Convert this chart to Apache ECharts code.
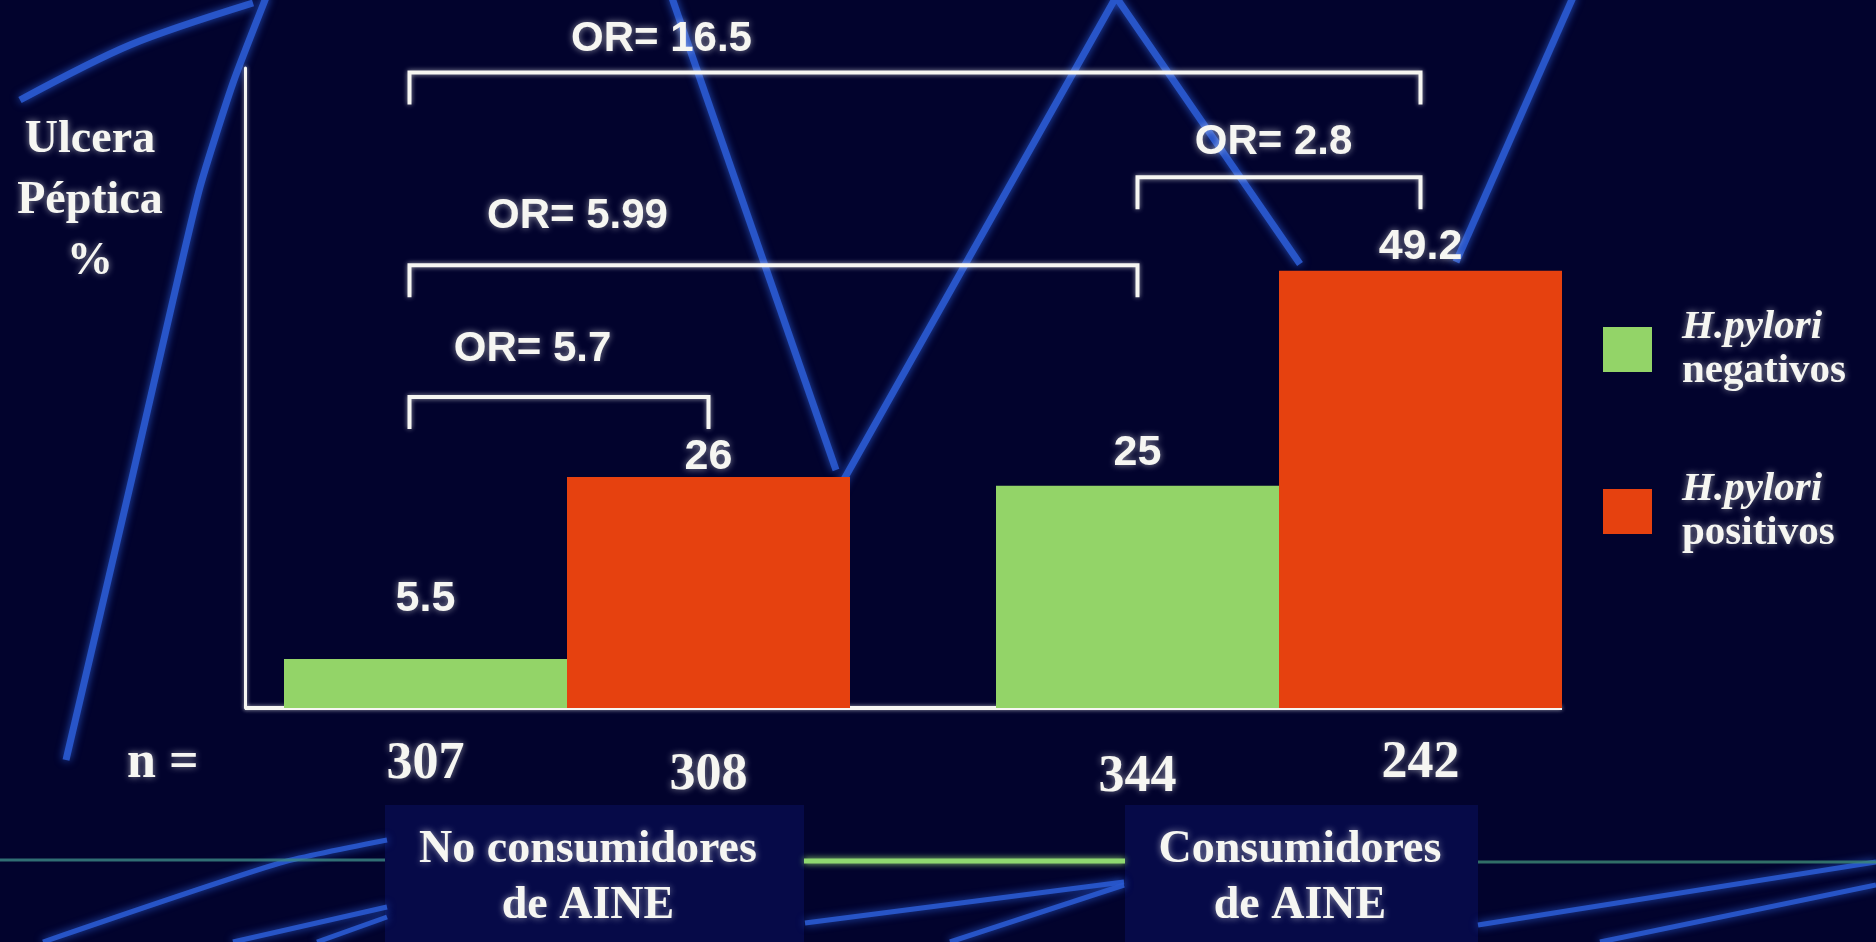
<!DOCTYPE html>
<html><head><meta charset="utf-8">
<script src="https://cdn.jsdelivr.net/npm/echarts@6/dist/echarts.min.js"></script>
<style>html,body{margin:0;padding:0;background:#02032d;}#c{width:1876px;height:942px;}</style>
</head><body><div id="c"></div>
<script>
// ---------------- data ----------------
const groups = ['No consumidores\nde AINE', 'Consumidores\nde AINE'];
const seriesNames = ['H.pylori negativos', 'H.pylori positivos'];
const hpNegativos = [5.5, 25];
const hpPositivos = [26, 49.2];
const nNegativos = [307, 344];
const nPositivos = [308, 242];
const yAxisTitle = 'Ulcera\nPéptica\n%';
const nTitle = 'n =';
const orLabels = ['OR= 16.5', 'OR= 2.8', 'OR= 5.99', 'OR= 5.7'];
const orFrom = [[0, 0], [1, 0], [0, 0], [0, 0]];   // [group, series]
const orTo   = [[1, 1], [1, 1], [1, 0], [0, 1]];
const orLevel = [71.5, 59.7, 49.8, 35.0];          // bracket height, % axis units
const yMax = 72;

// ---------------- style ----------------
const BG = '#02032d';
const GREEN = '#93d468';
const RED = '#e6410f';
const WHITE = '#f6f6f2';
const SANS = '"Liberation Sans", Arial, sans-serif';
const SERIF = '"Liberation Serif", "Times New Roman", serif';
const GRID = { left: 211, top: 68, width: 1424, height: 640 };
const AXIS_SHIFT = 34;
const BAR_W = 283;
const LEG = 32;
const LEFT_LEG_SHIFT = -16;
const orLabelDx = [252, 136, 168, 123];
const orLabelDy = [-33, -35, -49, -47];
const valueLabelDist = [[40, 13], [0, 4]];   // [series][group]
const nDy = [[57, 70], [68, 56]];            // [series][group]
const glow = { textShadowColor: 'rgba(255,255,255,0.55)', textShadowBlur: 7 };
const BLUE = '#2a5ad0';

function barCenterX(api, g, s) {
  const c = api.coord([g, 0]);
  return c[0] + (s === 0 ? -BAR_W / 2 : BAR_W / 2);
}

function decoLine(points, color, width, smooth) {
  return { type: 'polyline', z: 0, silent: true,
    shape: { points: points, smooth: smooth || 0 },
    style: { stroke: color, lineWidth: width, fill: null, shadowBlur: 8, shadowColor: color, opacity: 0.9 } };
}

const chart = echarts.init(document.getElementById('c'));
const valueSeries = [hpNegativos, hpPositivos];
const nSeries = [nNegativos, nPositivos];

const nData = [];
for (let s = 0; s < 2; s++) for (let g = 0; g < groups.length; g++) nData.push([g, 0, nSeries[s][g], s]);

chart.setOption({
  backgroundColor: BG,
  animation: false,
  grid: { left: GRID.left, top: GRID.top, width: GRID.width, height: GRID.height },
  xAxis: {
    type: 'category', data: groups,
    axisLine: { show: false }, axisTick: { show: false }, splitLine: { show: false },
    axisLabel: {
      color: WHITE, fontFamily: SERIF, fontWeight: 'bold', fontSize: 46, lineHeight: 56,
      margin: 114, padding: [0, 0, 0, 42], ...glow
    }
  },
  yAxis: {
    type: 'value', min: 0, max: yMax, offset: -AXIS_SHIFT,
    axisLine: { show: true, lineStyle: { color: WHITE, width: 3, shadowBlur: 4, shadowColor: 'rgba(255,255,255,0.6)' } },
    axisTick: { show: false }, axisLabel: { show: false }, splitLine: { show: false }
  },
  legend: {
    orient: 'vertical', left: 1598, top: 302, itemWidth: 49, itemHeight: 45, itemGap: 77,
    icon: 'rect', selectedMode: false,
    data: seriesNames,
    formatter: function (name) {
      const parts = name.split(' ');
      return '{a|' + parts[0] + '}\n{b|' + parts[1] + '}';
    },
    textStyle: {
      color: WHITE, padding: [0, 0, 0, 25],
      rich: {
        a: { color: WHITE, fontFamily: SERIF, fontStyle: 'italic', fontWeight: 'bold', fontSize: 41, lineHeight: 44, ...glow },
        b: { color: WHITE, fontFamily: SERIF, fontWeight: 'bold', fontSize: 41, lineHeight: 44, ...glow }
      }
    }
  },
  graphic: [
    // decorative slide background
    { type: 'rect', z: 0, silent: true, shape: { x: 385, y: 805, width: 419, height: 137 }, style: { fill: '#060a48' } },
    { type: 'rect', z: 0, silent: true, shape: { x: 1125, y: 805, width: 353, height: 137 }, style: { fill: '#060a48' } },
    decoLine([[20, 100], [130, 45], [253, 3]], BLUE, 7, 0.3),
    decoLine([[267, -5], [233, 83], [200, 187], [173, 300], [132, 478], [66, 760]], BLUE, 7, 0.2),
    decoLine([[671, -5], [836, 470]], BLUE, 7),
    decoLine([[838, 490], [1116, -3], [1300, 264]], BLUE, 7),
    decoLine([[1574, -5], [1456, 262]], BLUE, 7),
    decoLine([[43, 942], [280, 863], [387, 840]], BLUE, 5, 0.2),
    decoLine([[233, 942], [387, 907]], BLUE, 5),
    decoLine([[317, 942], [387, 917]], BLUE, 5),
    decoLine([[805, 923], [1124, 882]], BLUE, 5),
    decoLine([[950, 942], [1124, 885]], BLUE, 5),
    decoLine([[1478, 925], [1876, 862]], BLUE, 5),
    decoLine([[1600, 942], [1876, 885]], BLUE, 5),
    { type: 'line', z: 0, silent: true, shape: { x1: 0, y1: 860, x2: 385, y2: 860 }, style: { stroke: '#3c8a86', lineWidth: 3, opacity: 0.8 } },
    { type: 'line', z: 0, silent: true, shape: { x1: 804, y1: 861, x2: 1125, y2: 861 }, style: { stroke: '#8fd870', lineWidth: 5, shadowBlur: 6, shadowColor: '#8fd870' } },
    { type: 'line', z: 0, silent: true, shape: { x1: 1478, y1: 862, x2: 1876, y2: 862 }, style: { stroke: '#3c8a76', lineWidth: 3, opacity: 0.8 } },
    // texts
    { type: 'text', z: 100, x: 90, y: 110,
      style: { text: yAxisTitle, fill: WHITE, font: 'bold 46px ' + SERIF, lineHeight: 61, align: 'center', verticalAlign: 'top', ...glow } },
    { type: 'text', z: 100, x: 127, y: 738,
      style: { text: nTitle, fill: WHITE, font: 'bold 52px ' + SERIF, ...glow } }
  ],
  series: [
    {
      type: 'custom', name: 'baseline', z: 1, silent: true, legendHoverLink: false,
      data: [[0, 0]],
      renderItem: function (params, api) {
        const y = api.coord([0, 0])[1];
        const xs = params.coordSys.x + AXIS_SHIFT;
        const xe = barCenterX(api, groups.length - 1, 1) + BAR_W / 2;
        return { type: 'line', shape: { x1: xs, y1: y, x2: xe, y2: y },
          style: { stroke: WHITE, lineWidth: 4, shadowBlur: 4, shadowColor: 'rgba(255,255,255,0.6)' } };
      }
    },
    ...valueSeries.map((vals, s) => ({
      type: 'bar', name: seriesNames[s], z: 3,
      barWidth: BAR_W, barGap: '0%',
      itemStyle: { color: s === 0 ? GREEN : RED },
      data: vals.map((v, g) => ({ value: v, label: { distance: valueLabelDist[s][g] } })),
      label: {
        show: true, position: 'top', color: WHITE, fontFamily: SANS, fontWeight: 'bold',
        fontSize: 43, lineHeight: 40, ...glow
      }
    })),
    {
      type: 'custom', name: 'n', z: 5, silent: true,
      data: nData,
      renderItem: function (params, api) {
        const d = nData[params.dataIndex];
        const g = d[0], s = d[3];
        const x = barCenterX(api, g, s);
        const y = api.coord([0, 0])[1] + nDy[s][g];
        return { type: 'text', x: x, y: y,
          style: { text: String(d[2]), fill: WHITE, font: 'bold 52px ' + SERIF, align: 'center', verticalAlign: 'middle', ...glow } };
      }
    },
    {
      type: 'custom', name: 'OR', z: 5, silent: true,
      data: orLabels.map((t, i) => [orFrom[i][0], orLevel[i]]),
      renderItem: function (params, api) {
        const i = params.dataIndex;
        let x1 = barCenterX(api, orFrom[i][0], orFrom[i][1]);
        if (orFrom[i][0] === 0 && orFrom[i][1] === 0) x1 += LEFT_LEG_SHIFT;
        const x2 = barCenterX(api, orTo[i][0], orTo[i][1]);
        const y = api.coord([0, orLevel[i]])[1];
        return { type: 'group', children: [
          { type: 'polyline', shape: { points: [[x1, y + LEG], [x1, y], [x2, y], [x2, y + LEG]] },
            style: { stroke: WHITE, lineWidth: 4, fill: null, shadowBlur: 5, shadowColor: 'rgba(255,255,255,0.6)' } },
          { type: 'text', x: x1 + orLabelDx[i], y: y + orLabelDy[i],
            style: { text: orLabels[i], fill: WHITE, font: 'bold 42px ' + SANS, align: 'center', verticalAlign: 'middle', ...glow } }
        ] };
      }
    }
  ]
});
</script>
</body></html>
